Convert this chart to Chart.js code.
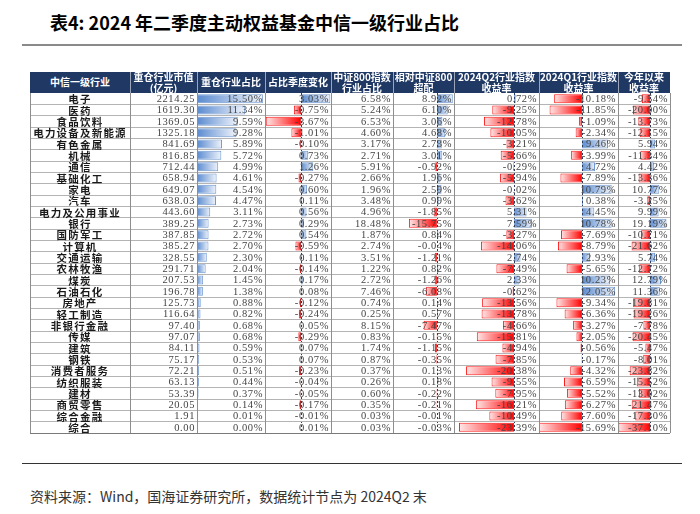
<!DOCTYPE html>
<html>
<head>
<meta charset="utf-8">
<script src="https://cdn.jsdelivr.net/npm/chart.js@4.4.1/dist/chart.umd.min.js"></script>
<style>
  body { margin: 0; width: 700px; height: 514px; background: #fff; overflow: hidden; position: relative; font-family: "Noto Sans CJK SC", sans-serif; }
  .abs { position: absolute; }
  .title { left: 50px; top: 9px; font-size: 18px; font-weight: bold; color: #000; line-height: 26px; white-space: nowrap; }
  .hd { color: #fff; font-weight: bold; font-size: 10px; line-height: 10.5px; text-align: center; display: flex; align-items: center; justify-content: center; white-space: pre; z-index: 3; }
  .name { font-weight: bold; font-size: 10.5px; color: #1a1a1a; white-space: nowrap; z-index: 3; letter-spacing: 1.2px; display: flex; align-items: center; justify-content: center; }
  .num { font-family: "Liberation Serif", serif; font-size: 10.5px; color: #444; white-space: nowrap; letter-spacing: 0.6px; z-index: 3; display: flex; align-items: center; justify-content: flex-end; }
  canvas { position: absolute; z-index: 1; }
  .line { z-index: 2; }
  .src { left: 30px; top: 486px; font-size: 14px; color: #333; white-space: nowrap; }
</style>
</head>
<body>
<div class="abs title">表4:&nbsp;2024&nbsp;年二季度主动权益基金中信一级行业占比</div>
<div class="abs" style="left:22px;top:44px;width:660px;height:2px;background:#8a8a8a"></div>
<div class="abs" style="left:22px;top:463px;width:660px;height:1px;background:#333"></div>
<div class="abs src">资料来源：Wind，国海证券研究所，数据统计节点为 2024Q2 末</div>
<div id="tbl"></div>
<script>
const industries = ['电子','医药','食品饮料','电力设备及新能源','有色金属','机械','通信','基础化工','家电','汽车',
  '电力及公用事业','银行','国防军工','计算机','交通运输','农林牧渔','煤炭','石油石化','房地产','轻工制造',
  '非银行金融','传媒','建筑','钢铁','消费者服务','纺织服装','建材','商贸零售','综合金融','综合'];
const holdValue = [2214.25,1619.30,1369.05,1325.18,841.69,816.85,712.44,658.94,649.07,638.03,
  443.60,389.25,387.85,385.27,328.55,291.71,207.53,196.78,125.73,116.64,
  97.40,97.07,84.11,75.17,72.21,63.13,53.39,20.05,1.91,0.00];
const holdShare = [15.50,11.34,9.59,9.28,5.89,5.72,4.99,4.61,4.54,4.47,
  3.11,2.73,2.72,2.70,2.30,2.04,1.45,1.38,0.88,0.82,
  0.68,0.68,0.59,0.53,0.51,0.44,0.37,0.14,0.01,0.00];
const shareChange = [3.03,-0.75,-3.67,-1.01,-0.10,0.73,1.26,-0.27,0.60,0.11,
  0.56,0.29,0.54,-0.59,0.11,-0.14,0.17,0.08,-0.12,-0.24,
  0.05,-0.29,0.07,0.07,-0.23,-0.04,-0.05,-0.17,-0.01,0.01];
const csi800Share = [6.58,5.24,6.53,4.60,3.17,2.71,5.91,2.66,1.96,3.48,
  4.96,18.48,1.87,2.74,3.51,1.22,2.72,7.46,0.74,0.25,
  8.15,0.83,1.74,0.87,0.37,0.26,0.60,0.35,0.03,0.03];
const overweight = [8.92,6.10,3.06,4.68,2.73,3.01,-0.92,1.96,2.59,0.99,
  -1.85,-15.75,0.84,-0.04,-1.21,0.82,-1.26,-6.08,0.14,0.57,
  -7.47,-0.15,-1.15,-0.35,0.13,0.18,-0.22,-0.21,-0.01,-0.03];
const q2Return = [0.72,-9.25,-12.78,-10.05,-3.21,-5.66,-0.29,-5.94,-0.02,-3.62,
  5.31,7.59,-3.27,-14.06,2.74,-7.49,2.33,-0.62,-13.56,-13.78,
  -4.66,-15.81,-4.94,-7.85,-20.38,-9.55,-7.95,-16.21,-10.49,-23.39];
const q1Return = [-10.18,-11.85,-1.09,-2.34,9.46,-3.99,4.72,-7.89,10.79,0.38,
  4.45,10.78,-7.69,-8.79,2.93,-5.65,10.23,12.05,-9.34,-6.36,
  -3.27,-2.05,-0.56,-0.17,-4.32,-6.59,-5.52,-6.27,-7.60,-15.69];
const ytdReturn = [-9.54,-20.00,-13.73,-12.15,5.94,-11.34,4.42,-13.36,10.77,-3.25,
  9.99,19.19,-10.71,-21.62,5.74,-12.72,12.79,11.36,-19.81,-19.26,
  -7.78,-20.45,-5.47,-8.01,-23.82,-15.52,-13.02,-21.47,-17.30,-37.10];
const headers = ['中信一级行业','重仓行业市值\n(亿元)','重仓行业占比','占比季度变化','中证800指数\n行业占比',
  '相对中证800\n超配','2024Q2行业指数\n收益率','2024Q1行业指数\n收益率','今年以来\n收益率'];

const colX = [30,130,197,265,331,393,454,539,618,670];
const headTop = 72, rowTop = 93, rowBottom = 433;
const rowH = (rowBottom - rowTop) / industries.length;
const tbl = document.getElementById('tbl');

function box(cls, l, t, w, h, html, style) {
  const d = document.createElement('div');
  d.className = 'abs ' + cls;
  d.style.left = l + 'px'; d.style.top = t + 'px';
  d.style.width = w + 'px'; d.style.height = h + 'px';
  if (style) d.style.cssText += style;
  if (html != null) d.textContent = html;
  tbl.appendChild(d);
  return d;
}

// header
box('', colX[0], headTop, colX[9] - colX[0], rowTop - headTop, null, 'background:#1f3864;z-index:2');
headers.forEach((h, i) => box('hd', colX[i], headTop, colX[i+1] - colX[i], rowTop - headTop, h));

// grid lines
for (let i = 1; i < industries.length; i++)
  box('line', colX[0], rowTop + i * rowH - 0.5, colX[9] - colX[0], 1, null, 'background:#b4b4b4');
box('line', colX[0], rowBottom - 0.5, colX[9] - colX[0], 1, null, 'background:#7a7a7a');
colX.forEach((x, i) => {
  box('line', x - 0.5, rowTop, 1, rowBottom - rowTop, null, 'background:#8e8e8e');
  if (i > 0 && i < 9) box('line', x - 0.5, headTop, 1, rowTop - headTop, null, 'background:rgba(255,255,255,0.55);z-index:3');
});

// text cells
const pct = v => v.toFixed(2) + '%';
const columns = [null, holdValue, holdShare, shareChange, csi800Share, overweight, q2Return, q1Return, ytdReturn];
industries.forEach((name, r) => {
  const t = rowTop + r * rowH;
  box('name', colX[0], t, colX[1] - colX[0], rowH, name);
  for (let c = 1; c < columns.length; c++) {
    const v = columns[c][r];
    const txt = c === 1 ? v.toFixed(2) : pct(v);
    box('num', colX[c], t, colX[c+1] - colX[c] - 2, rowH, txt);
  }
});

// data bars
const zeroAxis = {
  id: 'zeroAxis',
  afterDatasetsDraw(chart, args, opts) {
    if (!opts.show) return;
    const { ctx, chartArea, scales } = chart;
    const x = Math.round(scales.x.getPixelForValue(0)) + 0.5;
    ctx.save();
    ctx.strokeStyle = '#2d3b5c';
    ctx.lineWidth = 1;
    ctx.setLineDash([2, 2]);
    ctx.beginPath();
    ctx.moveTo(x, chartArea.top);
    ctx.lineTo(x, chartArea.bottom);
    ctx.stroke();
    ctx.restore();
  }
};

function fillFor(c) {
  const chart = c.chart;
  if (!chart.chartArea) return null;
  const xs = chart.scales.x;
  const v = c.raw;
  const x0 = xs.getPixelForValue(0), x1 = xs.getPixelForValue(v);
  if (Math.abs(x1 - x0) < 0.5) return 'rgba(0,0,0,0)';
  const g = chart.ctx.createLinearGradient(x0, 0, x1, 0);
  if (v >= 0) { g.addColorStop(0, '#5b8bd0'); g.addColorStop(1, '#f0f4fb'); }
  else { g.addColorStop(0, '#ff0000'); g.addColorStop(1, '#ffe8e8'); }
  return g;
}

const barCols = [
  { col: 2, data: holdShare, min: 0, max: 16, axis: false },
  { col: 3, data: shareChange, min: -3.75, max: 3.1, axis: true },
  { col: 5, data: overweight, min: -24.7, max: 9.6, axis: true },
  { col: 6, data: q2Return, min: -25.5, max: 10.6, axis: true },
  { col: 7, data: q1Return, min: -15.7, max: 13.1, axis: true },
  { col: 8, data: ytdReturn, min: -37.5, max: 23.3, axis: true },
];

barCols.forEach(b => {
  const cv = document.createElement('canvas');
  const w = colX[b.col + 1] - colX[b.col];
  cv.width = w; cv.height = rowBottom - rowTop;
  cv.style.left = colX[b.col] + 'px';
  cv.style.top = rowTop + 'px';
  document.body.appendChild(cv);
  new Chart(cv, {
    type: 'bar',
    data: {
      labels: industries,
      datasets: [{
        data: b.data,
        backgroundColor: fillFor,
        borderColor: c => c.raw >= 0 ? '#6f98d2' : '#ff1a1a',
        borderWidth: c => Math.abs(c.raw) < 0.005 ? 0 : 1,
        borderSkipped: false,
        barPercentage: 0.8,
        categoryPercentage: 1,
      }]
    },
    options: {
      indexAxis: 'y',
      responsive: false,
      animation: false,
      layout: { padding: 0 },
      scales: {
        x: { display: false, min: b.min, max: b.max },
        y: { display: false },
      },
      plugins: {
        legend: { display: false },
        tooltip: { enabled: false },
        zeroAxis: { show: b.axis },
      },
    },
    plugins: [zeroAxis],
  });
});
</script>
</body>
</html>
